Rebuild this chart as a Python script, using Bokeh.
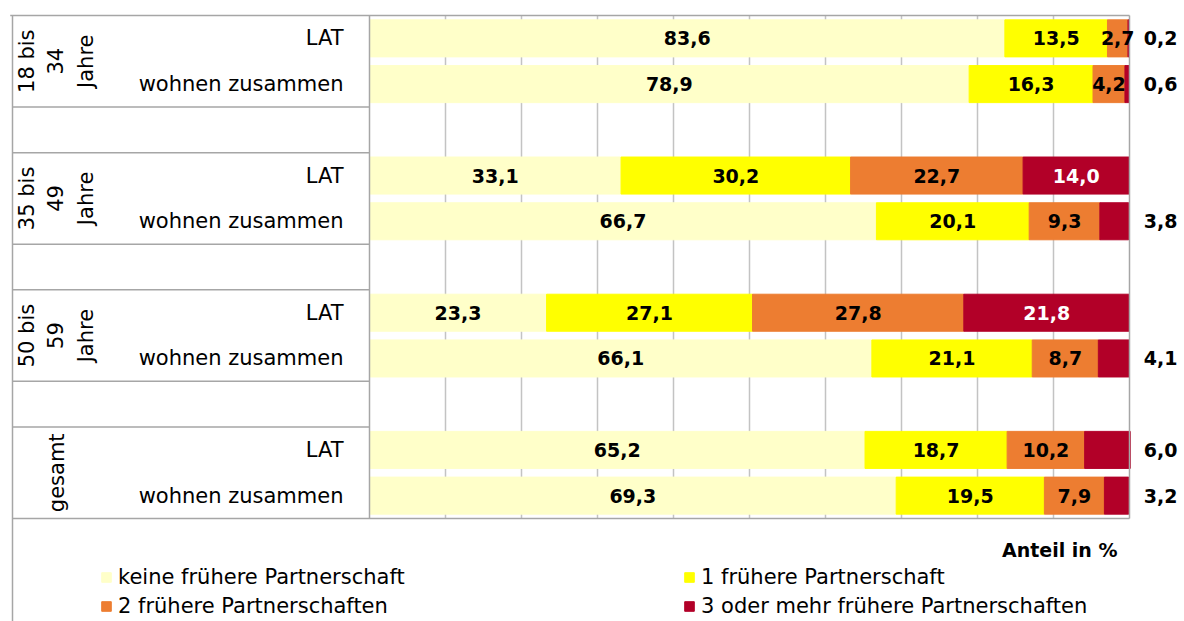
import math
from bokeh.plotting import figure
from bokeh.models import ColumnDataSource, Range1d, Legend, LegendItem
from bokeh.core.properties import value
from bokeh.embed import file_html
from bokeh.resources import INLINE

# ---------------- data ----------------
groups = ["18 bis\n34\nJahre", "35 bis\n49\nJahre", "50 bis\n59\nJahre", "gesamt"]
subgroups = ["LAT", "wohnen zusammen"]
series = ["keine frühere Partnerschaft", "1 frühere Partnerschaft",
          "2 frühere Partnerschaften", "3 oder mehr frühere Partnerschaften"]
keine = [83.6, 78.9, 33.1, 66.7, 23.3, 66.1, 65.2, 69.3]
eine = [13.5, 16.3, 30.2, 20.1, 27.1, 21.1, 18.7, 19.5]
zwei = [2.7, 4.2, 22.7, 9.3, 27.8, 8.7, 10.2, 7.9]
drei = [0.2, 0.6, 14.0, 3.8, 21.8, 4.1, 6.0, 3.2]
grid_ticks = [10, 20, 30, 40, 50, 60, 70, 80, 90]
axis_title = "Anteil in %"

colors = ["#FFFFC9", "#FFFF00", "#ED7D31", "#B20028"]
FONT = "DejaVu Sans"
LINE_GREY = "#A6A6A6"
GRID_GREY = "#C3C3C3"

# ---------------- layout helpers ----------------
W, H = 1184, 621
ORG = 0           # page offset of the figure
PLOT_LEFT, PLOT_TOP = 369, 15
PX_PER_PCT = 7.6
SLOT = 503 / 11.0
x0 = -(PLOT_LEFT - ORG) / PX_PER_PCT
x1 = x0 + W / PX_PER_PCT
y_top = -(PLOT_TOP - ORG) / SLOT
y_bot = y_top + H / SLOT
label_left = -(PLOT_LEFT - 12) / PX_PER_PCT

n_groups = len(groups)
n_sub = len(subgroups)
slot_per_group = n_sub + 1
last = n_groups * slot_per_group - 1  # end of bar area

row_y, row_sub = [], []
for gi in range(n_groups):
    for si in range(n_sub):
        row_y.append(gi * slot_per_group + si + 0.5)
        row_sub.append(subgroups[si])

p = figure(width=W, height=H, output_backend="svg", toolbar_location=None,
           x_range=Range1d(x0, x1), y_range=Range1d(y_bot, y_top),
           x_axis_location=None, y_axis_location=None, min_border=0,
           outline_line_color=None, background_fill_color="white")
p.xgrid.visible = False
p.ygrid.visible = False

# vertical grid lines inside the plot area
p.segment(x0=grid_ticks, x1=grid_ticks, y0=[0] * len(grid_ticks), y1=[last] * len(grid_ticks),
          line_color=GRID_GREY, line_width=1.5)

# stacked bars
src = ColumnDataSource(dict(y=row_y, k0=keine, k1=eine, k2=zwei, k3=drei))
rs = p.hbar_stack(["k0", "k1", "k2", "k3"], y="y", height=0.81, color=colors, source=src)

# frame / table lines
seps = []
for gi in range(n_groups):
    b = gi * slot_per_group + n_sub
    if b < last:
        seps += [b, b + 1]
p.segment(x0=[label_left] * len(seps), x1=[0] * len(seps), y0=seps, y1=seps,
          line_color=LINE_GREY, line_width=1.5)
p.segment(x0=[label_left - 0.3, label_left, 0, 100, label_left],
          x1=[100, label_left, 0, 100, 100],
          y0=[0, 0, 0, 0, last], y1=[0, y_bot, last, last, last],
          line_color=LINE_GREY, line_width=1.5)

# value labels
vals = [keine, eine, zwei, drei]
lx, ly, lt, lc = [], [], [], []
for r in range(len(row_y)):
    cum = 0.0
    for k in range(4):
        v = vals[k][r]
        c = cum + v / 2
        cum += v
        txt = f"{v:.1f}".replace(".", ",")
        if k == 3 and v < 10:
            lx.append(104.1); lc.append("black")
        else:
            lx.append(c); lc.append("white" if k == 3 else "black")
        ly.append(row_y[r]); lt.append(txt)
p.text(x=lx, y=ly, text=lt, text_color=lc, text_align="center", text_baseline="middle",
       text_font=value(FONT), text_font_style="bold", text_font_size="19px")

# sub labels
p.text(x=[-(PLOT_LEFT - 343) / PX_PER_PCT] * len(row_y), y=row_y, text=row_sub, text_align="right",
       text_baseline="middle", text_font=value(FONT), text_font_size="21px", text_color="black")

# group labels (rotated)
gy = [gi * slot_per_group + n_sub / 2 for gi in range(n_groups)]
p.text(x=[-(PLOT_LEFT - 56) / PX_PER_PCT] * n_groups, y=gy, text=groups, angle=math.pi / 2,
       text_align="center", text_baseline="middle", text_line_height=1.23,
       text_font=value(FONT), text_font_size="21px", text_color="black")

# axis title
p.text(x=[(1117 - PLOT_LEFT) / PX_PER_PCT], y=[(549 - PLOT_TOP) / SLOT], text=[axis_title],
       text_align="right", text_baseline="middle", text_font=value(FONT),
       text_font_style="bold", text_font_size="19px", text_color="black")

legend = Legend(items=[LegendItem(label=s, renderers=[r]) for s, r in zip(series, rs)],
                location=(100 - ORG, 3), orientation="horizontal", ncols=2,
                glyph_width=12, glyph_height=12, label_standoff=6, label_width=560,
                label_height=24, spacing=5, padding=0, margin=0,
                border_line_alpha=0, background_fill_alpha=0,
                label_text_font=FONT, label_text_font_size="21px", label_text_color="black")
p.add_layout(legend)

open("out.html", "w").write(file_html(p, INLINE))
